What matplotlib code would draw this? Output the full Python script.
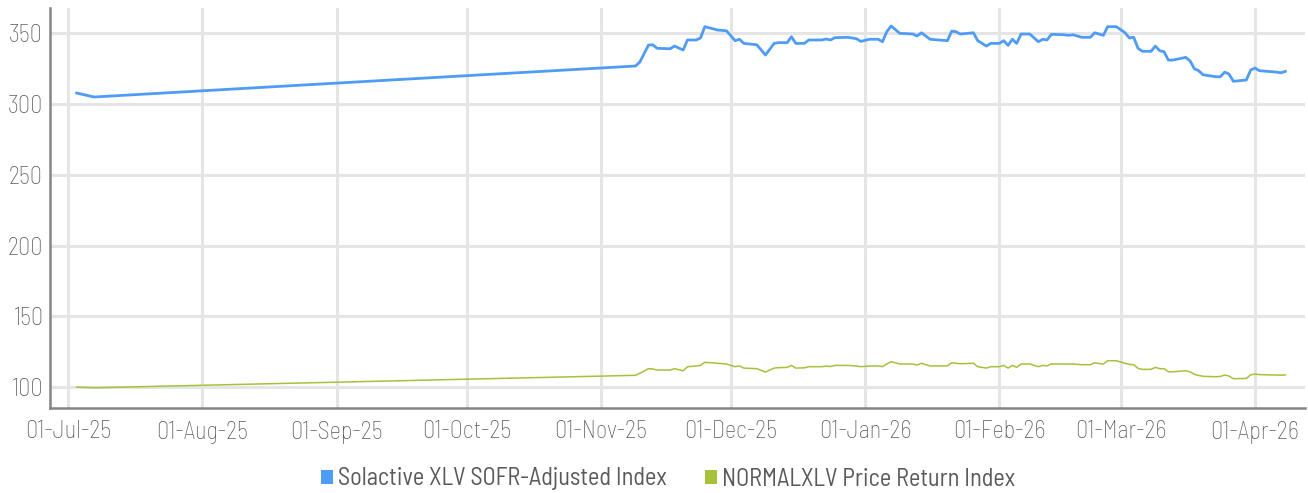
import matplotlib
matplotlib.use("Agg")
import matplotlib.pyplot as plt
import matplotlib.dates as mdates
from matplotlib.patches import Patch
import pandas as pd

dates = [
    "2025-07-03", "2025-07-07", "2025-11-09", "2025-11-10", "2025-11-12", "2025-11-13",
    "2025-11-14", "2025-11-17", "2025-11-18", "2025-11-20", "2025-11-21", "2025-11-23",
    "2025-11-24", "2025-11-25", "2025-11-28", "2025-11-30", "2025-12-02", "2025-12-03",
    "2025-12-04", "2025-12-07", "2025-12-09", "2025-12-11", "2025-12-12", "2025-12-14",
    "2025-12-15", "2025-12-16", "2025-12-18", "2025-12-19", "2025-12-22", "2025-12-23",
    "2025-12-24", "2025-12-25", "2025-12-28", "2025-12-30", "2025-12-31", "2026-01-02",
    "2026-01-04", "2026-01-05", "2026-01-06", "2026-01-07", "2026-01-09", "2026-01-12",
    "2026-01-13", "2026-01-14", "2026-01-16", "2026-01-20", "2026-01-21", "2026-01-22",
    "2026-01-23", "2026-01-26", "2026-01-27", "2026-01-29", "2026-01-30", "2026-02-01",
    "2026-02-02", "2026-02-03", "2026-02-04", "2026-02-05", "2026-02-06", "2026-02-08",
    "2026-02-10", "2026-02-11", "2026-02-12", "2026-02-13", "2026-02-16", "2026-02-17",
    "2026-02-18", "2026-02-20", "2026-02-22", "2026-02-23", "2026-02-24", "2026-02-25",
    "2026-02-26", "2026-02-28", "2026-03-02", "2026-03-03", "2026-03-04", "2026-03-05",
    "2026-03-06", "2026-03-08", "2026-03-09", "2026-03-10", "2026-03-11", "2026-03-12",
    "2026-03-13", "2026-03-16", "2026-03-17", "2026-03-18", "2026-03-19", "2026-03-20",
    "2026-03-23", "2026-03-24", "2026-03-25", "2026-03-26", "2026-03-27", "2026-03-30",
    "2026-03-31", "2026-04-01", "2026-04-02", "2026-04-06", "2026-04-07", "2026-04-08",
]

sofr_adjusted = [
    307.8, 305.0, 326.9, 329.7, 341.7, 341.9,
    339.4, 339.1, 341.0, 338.2, 345.3, 345.3,
    346.7, 354.7, 352.3, 351.8, 344.8, 345.8,
    342.9, 341.9, 334.7, 342.9, 343.4, 343.4,
    347.6, 342.9, 342.9, 345.3, 345.3, 346.0,
    345.3, 346.9, 347.2, 346.2, 344.3, 345.8,
    345.8, 344.1, 351.1, 355.2, 350.0, 349.5,
    348.1, 350.4, 345.8, 344.8, 351.6, 351.1,
    349.5, 350.4, 344.8, 341.0, 342.9, 342.9,
    344.8, 341.5, 345.8, 342.9, 349.5, 349.5,
    344.1, 345.8, 345.3, 349.3, 349.0, 348.6,
    349.0, 347.2, 347.2, 350.4, 349.5, 348.6,
    354.7, 354.7, 350.4, 346.7, 347.2, 339.4,
    337.3, 337.3, 341.0, 337.7, 337.0, 331.1,
    331.1, 333.0, 330.6, 325.0, 323.6, 320.7,
    319.3, 319.3, 322.6, 321.2, 316.1, 317.0,
    324.0, 325.5, 323.6, 322.6, 322.1, 323.1,
]

normal_price_return = [
    100.0, 99.5, 108.3, 109.7, 113.0, 112.8,
    112.0, 112.0, 113.0, 111.5, 114.4, 114.9,
    115.3, 117.5, 116.8, 116.3, 114.4, 114.9,
    113.4, 113.0, 110.6, 113.4, 113.7, 113.9,
    115.3, 113.4, 113.6, 114.4, 114.4, 114.8,
    114.5, 115.3, 115.3, 114.9, 114.4, 114.9,
    114.9, 114.4, 116.3, 117.9, 116.3, 116.3,
    115.6, 116.8, 114.9, 115.0, 117.2, 116.8,
    116.5, 116.8, 114.4, 113.4, 114.4, 114.4,
    115.3, 113.4, 115.3, 113.9, 116.3, 116.3,
    114.4, 115.3, 115.0, 116.3, 116.3, 116.2,
    116.3, 115.8, 115.8, 117.2, 116.6, 116.3,
    118.6, 118.6, 116.8, 116.0, 115.8, 113.2,
    112.5, 112.5, 113.9, 113.0, 113.0, 110.8,
    110.8, 111.5, 110.8, 109.0, 108.2, 107.6,
    107.3, 107.5, 108.5, 107.8, 105.9, 106.1,
    108.6, 109.2, 108.8, 108.5, 108.4, 108.6,
]

series_names = ["Solactive XLV SOFR-Adjusted Index", "NORMALXLV Price Return Index"]
y_ticks = [100, 150, 200, 250, 300, 350]

BLUE = "#4e9cf6"
GREEN = "#a5c23a"
GRID = "#e5e5e5"
SPINE = "#858585"
TEXT = "#5a5a5a"

plt.rcParams["font.family"] = ["Barlow Semi Condensed", "Roboto Condensed", "Fira Sans Condensed", "DejaVu Sans"]

x = pd.to_datetime(dates)

fig = plt.figure(figsize=(13.08, 4.93), dpi=100)
ax = fig.add_axes([50 / 1308, 1 - 408 / 493, 1255 / 1308, 400 / 493])

ax.plot(x, sofr_adjusted, color=BLUE, lw=2.0, solid_joinstyle="round", zorder=3)
ax.plot(x, normal_price_return, color=GREEN, lw=1.1, solid_joinstyle="round", zorder=3)

ax.set_ylim(85.2, 367.9)
ax.set_xlim(pd.Timestamp("2025-06-26 20:24"), pd.Timestamp("2026-04-12 13:00"))
ax.set_yticks(y_ticks)
ax.xaxis.set_major_locator(mdates.MonthLocator())
ax.xaxis.set_major_formatter(mdates.DateFormatter("%d-%b-%y"))

ax.grid(True, color=GRID, lw=2.2, zorder=0)
ax.set_axisbelow(True)
for s in ["top", "right"]:
    ax.spines[s].set_visible(False)
for s in ["left", "bottom"]:
    ax.spines[s].set_color(SPINE)
    ax.spines[s].set_linewidth(1.8)

ax.tick_params(axis="both", length=0, labelsize=17.5, labelcolor=TEXT)
ax.tick_params(axis="y", pad=5)
ax.tick_params(axis="x", pad=9)
for lab in ax.get_xticklabels() + ax.get_yticklabels():
    lab.set_fontweight("light")

handles = [Patch(facecolor=BLUE, edgecolor="none"), Patch(facecolor=GREEN, edgecolor="none")]
leg = fig.legend(handles, series_names, loc="center", bbox_to_anchor=(0.5107, 1 - 479 / 493),
                 ncol=2, frameon=False, fontsize=17.5, handlelength=0.5, handleheight=0.5,
                 handletextpad=0.2, columnspacing=1.6, labelcolor=TEXT)

fig.savefig("out.png", dpi=100)
